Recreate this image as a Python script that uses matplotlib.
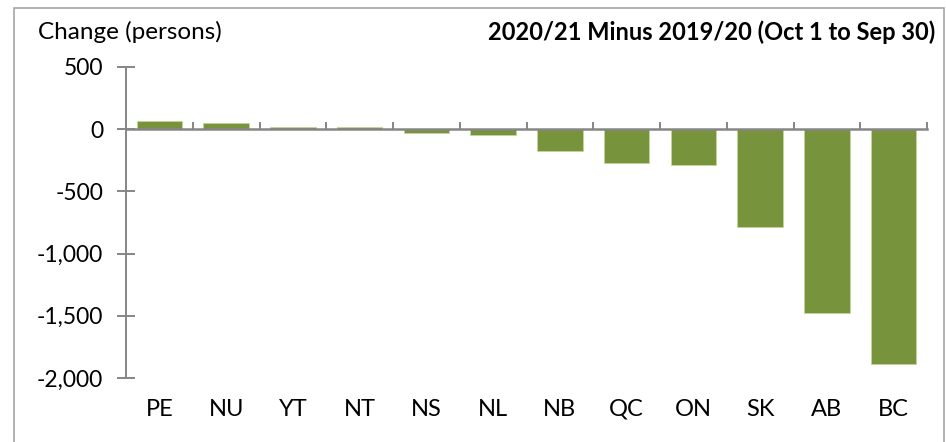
import matplotlib
matplotlib.use("Agg")
import matplotlib.pyplot as plt
from matplotlib.patches import Rectangle

categories = ["PE", "NU", "YT", "NT", "NS", "NL", "NB", "QC", "ON", "SK", "AB", "BC"]
values = [66, 50, 18, 15, -28, -45, -173, -270, -285, -785, -1475, -1888]
yticks = [500, 0, -500, -1000, -1500, -2000]
ytick_labels = ["500", "0", "-500", "-1,000", "-1,500", "-2,000"]

plt.rcParams['font.family'] = ['Lato', 'DejaVu Sans']
W, H = 946, 442
fig = plt.figure(figsize=(W / 100, H / 100), dpi=100)
fig.patches.append(Rectangle((14 / W, -0.1), (944 - 14) / W, 1.1 - 8 / H,
                             transform=fig.transFigure, fill=False,
                             edgecolor="#A6A6A6", linewidth=1.2))

left, right, top, bottom = 126, 927, 67, 378
ax = fig.add_axes([left / W, 1 - bottom / H, (right - left) / W, (bottom - top) / H])

gray = "#868686"
green = "#77933C"
x = list(range(len(categories)))
ax.bar(x, values, width=0.68, color=green, edgecolor="#C3D69B", linewidth=0.6, zorder=2)

ax.set_xlim(-0.5, len(categories) - 0.5)
ax.set_ylim(-2000, 500)

for s in ["top", "right"]:
    ax.spines[s].set_visible(False)
ax.spines["left"].set_color(gray)
ax.spines["left"].set_linewidth(1.4)
ax.spines["bottom"].set_position(("data", 0))
ax.spines["bottom"].set_color(gray)
ax.spines["bottom"].set_linewidth(1.8)
ax.spines["bottom"].set_zorder(3)

ax.set_yticks(yticks)
ax.set_yticklabels(ytick_labels)
ax.tick_params(axis="y", direction="inout", length=13, width=1.4, color=gray,
               labelsize=16.5, pad=10, labelcolor="black")

ax.set_xticks(x)
ax.set_xticklabels(categories)
ax.set_xticks([i - 0.5 for i in range(len(categories) + 1)], minor=True)
ax.tick_params(axis="x", which="major", length=0, labelsize=17, pad=194)
ax.tick_params(axis="x", which="minor", direction="in", length=5, width=1.4, color=gray)

fig.text(38 / W, 1 - 32 / H, "Change (persons)", fontsize=17.5, ha="left", va="center")
fig.text(935 / W, 1 - 32 / H, "2020/21 Minus 2019/20 (Oct 1 to Sep 30)",
         fontsize=17, fontweight="bold", ha="right", va="center")

fig.savefig("out.png", dpi=100)
